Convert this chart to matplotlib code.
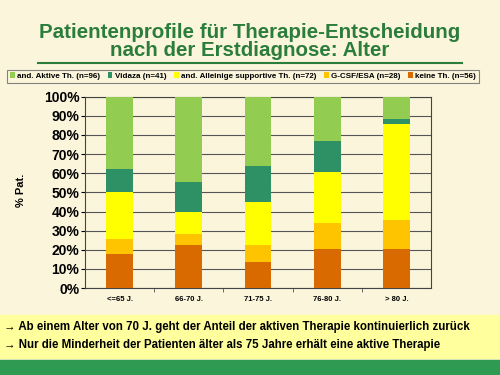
import matplotlib
matplotlib.use("Agg")
import matplotlib.pyplot as plt
from matplotlib.patches import Rectangle
from matplotlib.lines import Line2D
import numpy as np

# data (percent of patients per age group)
groups = ['<=65 J.', '66-70 J.', '71-75 J.', '76-80 J.', '> 80 J.']
keine = [18.0, 22.3, 13.5, 20.4, 20.4]
gcsf = [7.5, 5.7, 8.8, 13.6, 14.9]
supportiv = [24.5, 12.0, 22.7, 26.4, 50.2]
vidaza = [12.3, 15.3, 18.9, 16.4, 3.0]
aktiv = [37.7, 44.7, 36.1, 23.2, 11.5]

series = [
    ('keine Th. (n=56)', keine, '#D96A00'),
    ('G-CSF/ESA (n=28)', gcsf, '#FFC400'),
    ('and. Alleinige supportive Th. (n=72)', supportiv, '#FFFF00'),
    ('Vidaza (n=41)', vidaza, '#2E9166'),
    ('and. Aktive Th. (n=96)', aktiv, '#92CC50'),
]
legend_order = [4, 3, 2, 1, 0]

bg = '#FBF5DC'
fig = plt.figure(figsize=(5, 3.75), dpi=100, facecolor=bg)
plt.rcParams['font.family'] = ['Liberation Sans', 'DejaVu Sans']

# title
fig.text(0.5, 0.913, 'Patientenprofile für Therapie-Entscheidung', ha='center', va='center',
         fontsize=14.8, fontweight='bold', color='#2B7D3C')
fig.text(0.5, 0.865, 'nach der Erstdiagnose: Alter', ha='center', va='center',
         fontsize=14.8, fontweight='bold', color='#2B7D3C')
fig.add_artist(Line2D([0.076, 0.924], [0.833, 0.833], color='#2B7D3C', lw=1.5))

ax = fig.add_axes([0.17, 0.232, 0.692, 0.51])
ax.set_facecolor(bg)
x = np.arange(len(groups))
bottom = np.zeros(len(groups))
handles = []
for label, vals, col in series:
    h = ax.bar(x, vals, 0.39, bottom=bottom, color=col, label=label, zorder=3)
    handles.append(h)
    bottom += np.array(vals)

ax.set_xlim(-0.5, len(groups) - 0.5)
ax.set_ylim(0, 100)
ax.set_yticks(np.arange(0, 101, 10))
ax.set_yticklabels([f'{v}%' for v in range(0, 101, 10)], fontsize=10, fontweight='bold')
ax.set_xticks(x)
ax.set_xticklabels(groups, fontsize=5.5, fontweight='bold')
ax.set_xticks(np.arange(0.5, len(groups) - 0.5, 1), minor=True)
ax.tick_params(axis='x', which='major', length=0, pad=6)
ax.tick_params(axis='x', which='minor', length=3, color='#555555')
ax.tick_params(axis='y', length=3, pad=1)
ax.grid(axis='y', color='#555555', lw=0.8, zorder=0)
for s in ax.spines.values():
    s.set_color('#444444')
    s.set_linewidth(0.8)
fig.text(0.042, 0.493, '% Pat.', rotation=90, ha='center', va='center', fontsize=8, fontweight='bold')

leg = fig.legend([handles[i] for i in legend_order], [series[i][0] for i in legend_order],
                 loc='center', bbox_to_anchor=(0.486, 0.797), ncol=5,
                 prop={'weight': 'bold', 'size': 5.75}, frameon=True, fancybox=False,
                 handlelength=0.6, handleheight=0.6, handletextpad=0.3, columnspacing=0.95,
                 borderpad=0.35, edgecolor='#666666')
leg.get_frame().set_facecolor(bg)
leg.get_frame().set_linewidth(0.8)

# bottom bands
fig.add_artist(Rectangle((0, 0.045), 1, 0.115, transform=fig.transFigure, color='#FFFF9E', zorder=0))
fig.add_artist(Rectangle((0, 0), 1, 0.04, transform=fig.transFigure, color='#2E9A52', zorder=0))
fam = ['Liberation Sans Narrow', 'Liberation Sans', 'DejaVu Sans']
fig.text(0.008, 0.128, '\u2192 Ab einem Alter von 70 J. geht der Anteil der aktiven Therapie kontinuierlich zurück',
         fontsize=8.3, fontweight='bold', family=fam, va='center')
fig.text(0.008, 0.08, '\u2192 Nur die Minderheit der Patienten älter als 75 Jahre erhält eine aktive Therapie',
         fontsize=8.3, fontweight='bold', family=fam, va='center')

fig.savefig('out.png', dpi=100, facecolor=bg)
